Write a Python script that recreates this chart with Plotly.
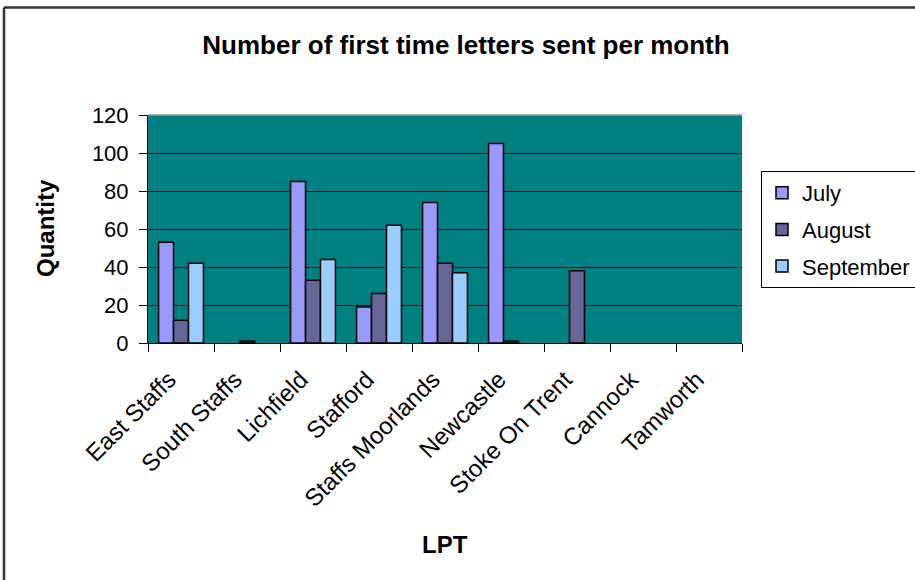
import plotly.graph_objects as go

categories = ["East Staffs", "South Staffs", "Lichfield", "Stafford", "Staffs Moorlands",
              "Newcastle", "Stoke On Trent", "Cannock", "Tamworth"]
july = [53, 0, 85, 19, 74, 105, 0, 0, 0]
august = [12, 1, 33, 26, 42, 1, 38, 0, 0]
september = [42, 0, 44, 62, 37, 0, 0, 0, 0]
y_ticks = [0, 20, 40, 60, 80, 100, 120]

FONT = "Liberation Sans, Arial, sans-serif"

fig = go.Figure()
for name, vals, col in [("July", july, "#9999FF"), ("August", august, "#666699"),
                        ("September", september, "#99CCFF")]:
    widths = [1.5 if v > 0 else 0 for v in vals]
    fig.add_trace(go.Bar(x=categories, y=vals, name=name, legendgroup=name,
                         marker=dict(color=col, line=dict(color="black", width=widths))))

# plot area: x 148..742, y 115..343
L, R, T, B = 148, 742, 115, 343
W, H = 915, 580
pw, ph = R - L, B - T

def px(x):
    return (x - L) / pw

def py(y):
    return (B - y) / ph

fig.update_layout(
    width=W, height=H,
    margin=dict(l=L, r=W - R, t=T, b=H - B, pad=0, autoexpand=False),
    paper_bgcolor="white",
    plot_bgcolor="#008080",
    barmode="group",
    bargap=0.32,
    bargroupgap=0,
    font=dict(family=FONT, size=22, color="black"),
    title=dict(text="<b>Number of first time letters sent per month</b>",
               x=466 / W, xanchor="center", y=1 - 45 / H, yanchor="middle",
               font=dict(family=FONT, size=26, color="black")),
    xaxis=dict(type="category", tickson="boundaries", ticks="outside", ticklen=8,
               tickcolor="black", tickwidth=1, showline=True, linecolor="black",
               linewidth=1, tickangle=-45, showgrid=False, automargin=False,
               ticklabelstandoff=12, ticklabelshift=-12,
               tickfont=dict(family=FONT, size=24, color="black")),
    yaxis=dict(range=[0, 120], tickvals=y_ticks, ticks="outside", ticklen=8,
               tickcolor="black", showline=True, linecolor="black", linewidth=1,
               showgrid=True, gridcolor="black", gridwidth=1, zeroline=False,
               automargin=False, ticklabelstandoff=6,
               tickfont=dict(family=FONT, size=22, color="black")),
    legend=dict(x=px(761), y=py(171), xanchor="left", yanchor="top",
                bgcolor="white", bordercolor="black", borderwidth=1,
                font=dict(family=FONT, size=22, color="black"),
                tracegroupgap=5, itemwidth=30),
    showlegend=True,
    shapes=[
        dict(type="line", xref="paper", yref="paper", x0=px(4), x1=px(915),
             y0=py(7.5), y1=py(7.5), line=dict(color="#333333", width=2.5)),
        dict(type="line", xref="paper", yref="paper", x0=px(4), x1=px(4),
             y0=py(7.5), y1=py(580), line=dict(color="#333333", width=2.5)),
        dict(type="line", xref="paper", yref="paper", x0=0, x1=1, y0=1, y1=1,
             line=dict(color="#999999", width=1.5)),
    ],
    annotations=[
        dict(text="<b>Quantity</b>", xref="paper", yref="paper", x=px(45), y=py(228),
             xanchor="center", yanchor="middle", textangle=-90, showarrow=False,
             font=dict(family=FONT, size=24, color="black")),
        dict(text="<b>LPT</b>", xref="paper", yref="paper", x=px(445), y=py(544),
             xanchor="center", yanchor="middle", showarrow=False,
             font=dict(family=FONT, size=24, color="black")),
    ],
)

fig.write_html("out.html", config={"displayModeBar": False},
               post_script="document.body.style.margin='0';document.body.style.padding='0';")
